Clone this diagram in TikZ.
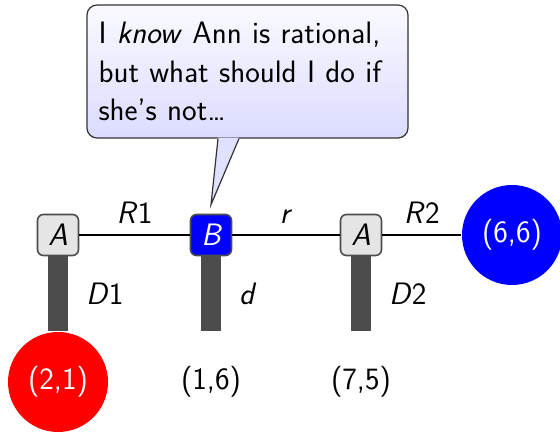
\documentclass[tikz,border=0pt]{standalone}
\usepackage{tikz}
\usetikzlibrary{positioning}
\newcommand{\picfont}{\sffamily\fontsize{15.5}{19.25}\selectfont}
\tikzset{
    player/.style={rectangle, rounded corners=3pt, draw=black!70, fill=black!10, minimum size=20.5pt, inner sep=0pt, font=\picfont\slshape},
    payoff/.style={circle, minimum size=50pt, inner sep=0pt},
    move label/.style={font=\picfont, inner sep=2pt},
    branch/.style={line width=10pt, draw=black!70},
    bubble/.style={rectangle, rounded corners=5pt, draw=black!80, line width=0.6pt, top color=blue!2, bottom color=blue!14, minimum width=160.5pt, minimum height=66.5pt, text width=149pt, align=left}
}

\begin{document}
\begin{tikzpicture}[x=0.5pt, y=0.5pt, font=\picfont, line width=0.8pt]
    \useasboundingbox (0,0) rectangle (560,432);

    % Spieler
    \node[player] (a1) at (58,197) {A};
    \node[player, fill=blue, text=white] (b) at (211,197) {B};
    \node[player] (a2) at (361,197) {A};

    % Auszahlungen
    \node[payoff, fill=red, text=white] (p1) at (58,50) {(2,1)};
    \node[payoff] (p2) at (211,50) {(1,6)};
    \node[payoff] (p3) at (361,50) {(7,5)};
    \node[payoff, fill=blue, text=white] (p4) at (512,197) {(6,6)};

    % Zuege nach rechts
    \draw (a1) -- node[move label, above=3.5pt] {\textsl{R}1} (b);
    \draw (b) -- node[move label, above=3.5pt] {\textsl{r}} (a2);
    \draw (a2) -- node[move label, above=3.5pt] {\textsl{R}2} (p4);

    % Zuege nach unten
    \draw[branch] (a1) -- node[move label, right=7pt] {\textsl{D}1} (p1);
    \draw[branch] (b) -- node[move label, right=7pt] {\textsl{d}} (p2);
    \draw[branch] (a2) -- node[move label, right=7pt] {\textsl{D}2} (p3);

    % Sprechblase
    \node[bubble] (thought) at (247.5,360.5)
        {I \textsl{know} Ann is rational,\\ but what should I do if\\ she's not\ldots};
    \coordinate (tip) at ([yshift=4.5pt]b.north);
    \coordinate (base l) at ([xshift=-14.75pt]thought.south);
    \coordinate (base r) at ([xshift=-4.25pt]thought.south);
    \fill[blue!12] ([yshift=0.5pt]base l) -- (tip) -- ([yshift=0.5pt]base r) -- cycle;
    \draw[black!80, line width=0.6pt] (base l) -- (tip) -- (base r);

\end{tikzpicture}
\end{document}
